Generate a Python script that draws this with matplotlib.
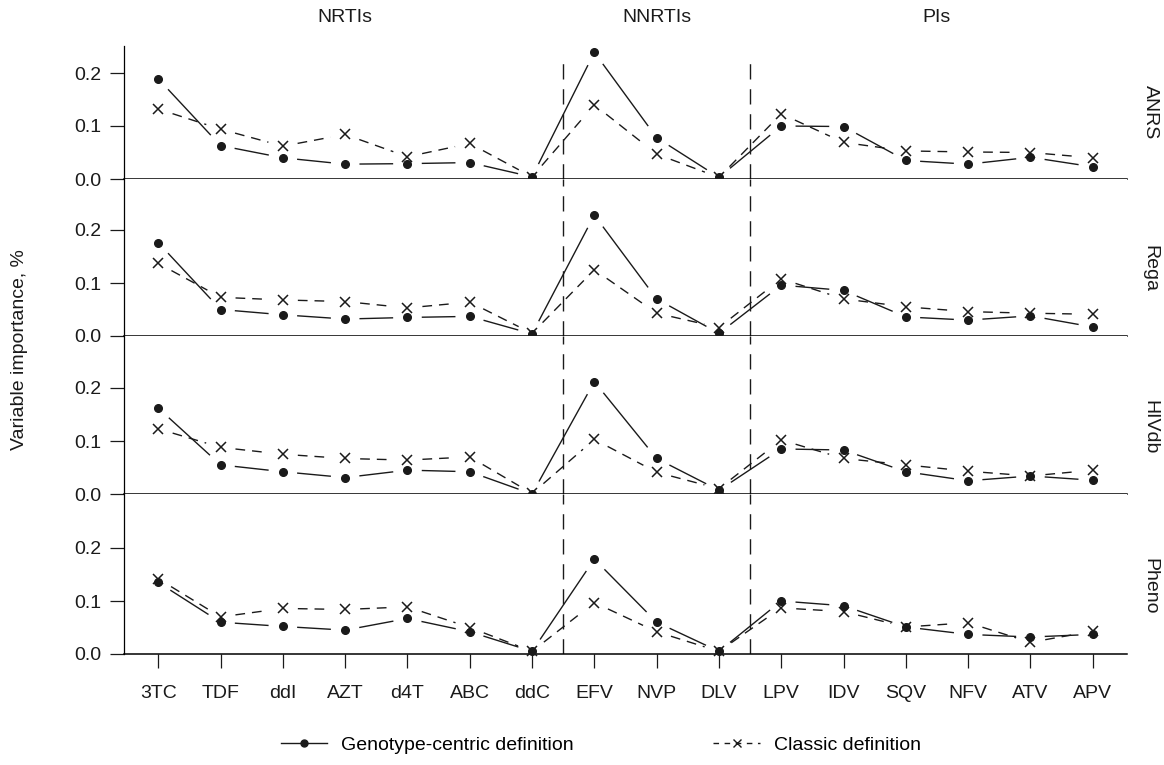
import numpy as np
import matplotlib.pyplot as plt
from matplotlib.lines import Line2D
from matplotlib import transforms

plt.rcParams['font.family'] = ['Liberation Sans', 'DejaVu Sans']

# data
drugs = ['3TC', 'TDF', 'ddI', 'AZT', 'd4T', 'ABC', 'ddC', 'EFV', 'NVP', 'DLV',
         'LPV', 'IDV', 'SQV', 'NFV', 'ATV', 'APV']
groups = ['NRTIs', 'NNRTIs', 'PIs']
group_first = [0, 7, 10]
group_last = [6, 9, 15]
panels = ['ANRS', 'Rega', 'HIVdb', 'Pheno']

anrs_geno = [0.189, 0.063, 0.040, 0.028, 0.029, 0.031, 0.004, 0.239, 0.078, 0.003,
             0.100, 0.099, 0.035, 0.028, 0.041, 0.023]
anrs_classic = [0.132, 0.094, 0.062, 0.084, 0.042, 0.067, 0.004, 0.140, 0.047, 0.003,
                0.123, 0.069, 0.053, 0.051, 0.050, 0.040]
rega_geno = [0.176, 0.050, 0.040, 0.032, 0.035, 0.037, 0.004, 0.228, 0.070, 0.005,
             0.096, 0.086, 0.036, 0.030, 0.038, 0.017]
rega_classic = [0.137, 0.073, 0.068, 0.065, 0.053, 0.064, 0.005, 0.125, 0.043, 0.016,
                0.108, 0.070, 0.055, 0.046, 0.043, 0.041]
hivdb_geno = [0.162, 0.055, 0.042, 0.031, 0.045, 0.042, 0.000, 0.212, 0.067, 0.007,
              0.085, 0.083, 0.042, 0.025, 0.034, 0.026]
hivdb_classic = [0.123, 0.088, 0.075, 0.067, 0.064, 0.070, 0.001, 0.103, 0.041, 0.010,
                 0.102, 0.067, 0.055, 0.043, 0.034, 0.045]
pheno_geno = [0.135, 0.060, 0.052, 0.045, 0.067, 0.042, 0.005, 0.179, 0.060, 0.005,
              0.100, 0.091, 0.051, 0.037, 0.032, 0.037]
pheno_classic = [0.142, 0.070, 0.086, 0.084, 0.089, 0.050, 0.005, 0.097, 0.042, 0.005,
                 0.087, 0.080, 0.051, 0.059, 0.022, 0.043]

geno = [anrs_geno, rega_geno, hivdb_geno, pheno_geno]
classic = [anrs_classic, rega_classic, hivdb_classic, pheno_classic]

ink = '#1a1a1a'
W, H = 1164, 765
fig = plt.figure(figsize=(W / 100, H / 100), dpi=100)

# layout in pixels
px_unit = 530.0
x_left, x_right = 124, 1127
tops = [46, 179, 336, 494]
bases = [179, 336, 494, 654]
x = np.arange(len(drugs))


def gapped(ax, xs, ys, gap, **kw):
    # R type="b" style: segments stop short of each point
    pts = ax.transData.transform(np.column_stack([xs, ys]))
    inv = ax.transData.inverted()
    for p0, p1 in zip(pts[:-1], pts[1:]):
        d = p1 - p0
        L = np.hypot(*d)
        if L <= 2 * gap:
            continue
        u = d / L
        seg = inv.transform(np.array([p0 + u * gap, p1 - u * gap]))
        ax.plot(seg[:, 0], seg[:, 1], clip_on=False, **kw)


axes = []
for i, name in enumerate(panels):
    h = bases[i] - tops[i]
    ax = fig.add_axes([x_left / W, 1 - bases[i] / H, (x_right - x_left) / W, h / H])
    ax.set_xlim(-0.55, len(drugs) - 0.45)
    ax.set_ylim(0, h / px_unit)
    for s in ['top', 'right']:
        ax.spines[s].set_visible(False)
    ax.spines['left'].set_linewidth(0.9)
    ax.spines['bottom'].set_linewidth(1.1)
    ax.set_yticks([0.0, 0.1, 0.2])
    ax.set_yticklabels(['0.0', '0.1', '0.2'])
    ax.tick_params(axis='y', length=10, width=0.9, pad=6, labelsize=14,
                   colors=ink)
    ax.set_xticks(x)
    if i == len(panels) - 1:
        ax.set_xticklabels(drugs)
        ax.tick_params(axis='x', length=10, width=0.9, pad=12, labelsize=14,
                       colors=ink)
    else:
        ax.tick_params(axis='x', length=0, labelbottom=False)

    # group separators
    for b in [6.5, 9.5]:
        if i == 0:
            ax.plot([b, b], [0, (bases[0] - 62) / px_unit], color=ink, lw=1,
                    ls=(0, (11, 7)))
        else:
            ax.axvline(b, color=ink, lw=1, ls=(0, (11, 7)))

    gapped(ax, x, geno[i], 15, color=ink, lw=1.0)
    gapped(ax, x, classic[i], 15, color=ink, lw=1.0, ls=(0, (7, 5)))
    ax.plot(x, geno[i], 'o', color=ink, ms=5.5, clip_on=False, zorder=3)
    ax.plot(x, classic[i], 'x', color=ink, ms=7, mew=1.1, clip_on=False, zorder=3)

    ax.text((1150 - x_left) / (x_right - x_left), 0.127, name, rotation=-90,
            transform=ax.get_yaxis_transform(), ha='center', va='center',
            fontsize=14, color=ink)
    axes.append(ax)

# group headers
top_ax = axes[0]
tr = transforms.blended_transform_factory(top_ax.transData, fig.transFigure)
for g, a, b in zip(groups, group_first, group_last):
    top_ax.text((a + b) / 2, 1 - 18 / H, g, transform=tr, ha='center', va='center',
                fontsize=14, color=ink)

fig.text(20 / W, 1 - 350 / H, 'Variable importance, %', rotation=90,
         ha='center', va='center', fontsize=14, color=ink)

handles = [
    Line2D([], [], color=ink, lw=1.0, marker='o', ms=5),
    Line2D([], [], color=ink, lw=1.0, ls=(0, (4, 4)), marker='x', ms=6, mew=1),
]
fig.legend(handles, ['Genotype-centric definition', 'Classic definition'],
           loc='center', bbox_to_anchor=(0.516, 1 - 745 / H), ncol=2,
           frameon=False, fontsize=14, handlelength=2.4, handletextpad=0.7,
           columnspacing=7.2)

fig.savefig('out.png', dpi=100)
